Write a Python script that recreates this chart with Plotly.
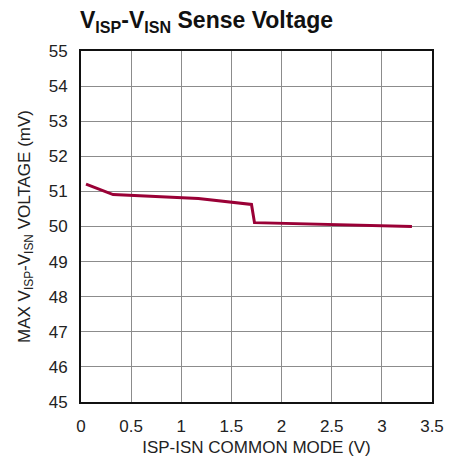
import plotly.graph_objects as go

# Sense voltage vs common mode
common_mode_v = [0.05, 0.32, 1.17, 1.70, 1.73, 2.00, 3.30]
sense_mv = [51.21, 50.91, 50.80, 50.63, 50.11, 50.09, 50.00]

x_ticks = [0, 0.5, 1, 1.5, 2, 2.5, 3, 3.5]
x_tick_text = ["0", "0.5", "1", "1.5", "2", "2.5", "3", "3.5"]
y_ticks = list(range(45, 56))

FONT = "Liberation Sans Narrow, Arial Narrow, Liberation Sans, sans-serif"

fig = go.Figure()
fig.add_trace(go.Scatter(
    x=common_mode_v, y=sense_mv, mode="lines",
    line=dict(color="#9a0036", width=3),
    showlegend=False,
))

fig.update_layout(
    width=461, height=462,
    margin=dict(l=81, r=29, t=51, b=60, autoexpand=False),
    paper_bgcolor="white", plot_bgcolor="white",
    font=dict(family=FONT, size=17, color="#222"),
    title=dict(
        text="<b>V<sub>ISP</sub>-V<sub>ISN</sub> Sense Voltage</b>",
        x=80 / 461, xanchor="left", y=1 - 20 / 462, yanchor="middle",
        font=dict(family=FONT, size=23, color="#111"),
    ),
)
fig.update_xaxes(
    range=[0, 3.5], tickvals=x_ticks, ticktext=x_tick_text,
    showgrid=True, gridcolor="#8c8c8c", gridwidth=1,
    showline=True, linecolor="#111", linewidth=2, mirror=True,
    ticks="", zeroline=False, ticklabelstandoff=8, automargin=False,
    title=dict(text="ISP-ISN COMMON MODE (V)", font=dict(size=17), standoff=6),
)
fig.update_yaxes(
    range=[45, 55], tickvals=y_ticks,
    showgrid=True, gridcolor="#8c8c8c", gridwidth=1,
    showline=True, linecolor="#111", linewidth=2, mirror=True,
    ticks="", zeroline=False, ticklabelstandoff=8, automargin=False,
    title=dict(text="MAX V<sub>ISP</sub>-V<sub>ISN</sub> VOLTAGE (mV)", font=dict(size=17), standoff=14),
)

fig.write_html("out.html")
